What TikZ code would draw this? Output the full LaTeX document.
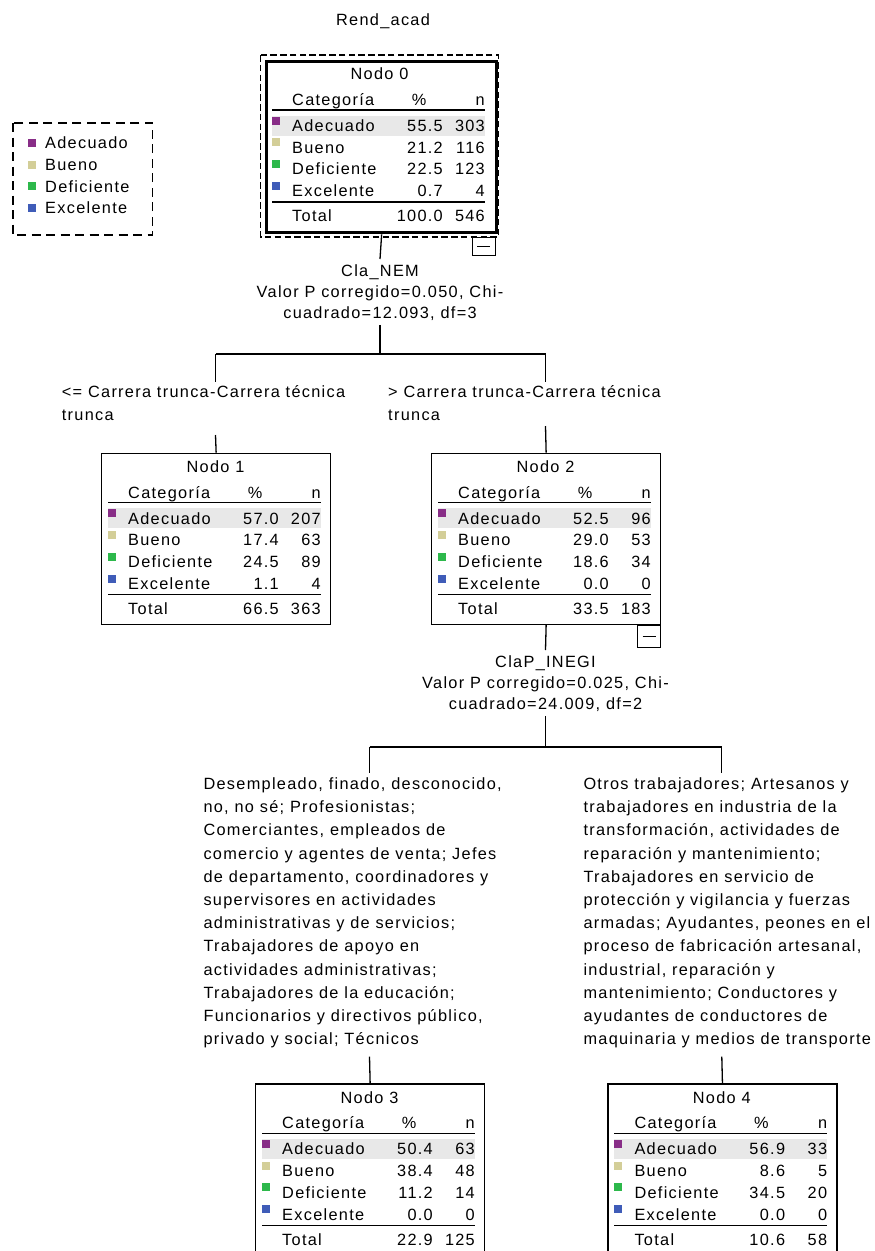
\documentclass[tikz,border=0pt]{standalone}
\usepackage{fontspec}
\setmainfont{Liberation Sans}[LetterSpace=8,Ligatures=NoCommon]
\usetikzlibrary{calc}
\definecolor{cAde}{HTML}{882D87}
\definecolor{cBue}{HTML}{D3CE98}
\definecolor{cDef}{HTML}{2DB84B}
\definecolor{cExc}{HTML}{3F5CB8}
\definecolor{hlgray}{HTML}{E8E8E8}
\newcommand\fsrow{\fontsize{16.3}{21.7}\selectfont}
\newcommand\fslab{\fontsize{16.3}{20.7}\selectfont}
\newcommand\fscond{\fontsize{16.3}{23.2}\selectfont}
\newcommand\firstline{\rule{0pt}{13pt}}
\tikzset{
  every node/.style={inner sep=0pt, font=\fsrow},
  tbox/.style={draw, line width=1.3pt, minimum width=229pt, minimum height=171pt, anchor=north west},
  rootbox/.style={tbox, line width=3.3pt, minimum width=230pt},
  hl/.style={fill=hlgray},
  tabrule/.style={line width=1.2pt},
  conn/.style={line width=1.3pt},
  dashbox/.style={line width=1.2pt, dash pattern=on 6.5pt off 3.3pt},
  legbox/.style={line width=1.2pt, dash pattern=on 9pt off 5.5pt},
  minusbox/.style={draw, line width=1.2pt, minimum width=23pt, minimum height=22pt, anchor=north east},
  splitlab/.style={align=center, font=\fslab, inner ysep=4.5pt, anchor=north},
  condlab/.style={align=left, font=\fscond, anchor=north west},
}
% #1 name, #2 left, #3 top, #4 node number, #5 rows, #6 total pct, #7 total n, #8 box style
\newcommand\treetab[8]{%
  \begin{scope}[shift={(#2,#3)}]
    \node[#8] (#1) at (0,0) {};
    \fill[hl] (7,55.5) rectangle (220,75.5);
    \node[anchor=base] (#1-title) at (114.5,19.85) {Nodo #4};
    \node[anchor=base west] (#1-hcat) at (27,45.35) {Categoría};
    \node[anchor=base] (#1-hpct) at (154,45.35) {\%};
    \node[anchor=base east] (#1-hn) at (220,45.35) {n};
    \draw[tabrule] (7,50) -- (220,50);
    \foreach \c/\k/\p/\n [count=\i from 0] in {#5} {
      \fill[fill=\k] (7,{56.5+21.8*\i}) rectangle (15,{64.5+21.8*\i});
      \node[anchor=base west] (#1-c\i) at (27,{71.35+21.8*\i}) {\c};
      \node[anchor=base east] (#1-p\i) at (178,{71.35+21.8*\i}) {\p};
      \node[anchor=base east] (#1-n\i) at (220,{71.35+21.8*\i}) {\n};
    }
    \draw[tabrule] (7,142) -- (220,142);
    \node[anchor=base west] (#1-tot) at (27,161.85) {Total};
    \node[anchor=base east] (#1-totp) at (178,161.85) {#6};
    \node[anchor=base east] (#1-totn) at (220,161.85) {#7};
  \end{scope}}
\begin{document}
\begin{tikzpicture}[x=1pt,y=-1pt]
\fill[white] (0,0) rectangle (875,1251);
\useasboundingbox (0,0) rectangle (875,1251);

% title
\node[anchor=base] (title) at (383,25.85) {Rend\_acad};

% legend
\draw[legbox] (13,123) rectangle (152.7,235);
\foreach \c/\k [count=\i from 0] in {Adecuado/cAde, Bueno/cBue, Deficiente/cDef, Excelente/cExc} {
  \fill[fill=\k] (28,{139+21.7*\i}) rectangle (36,{147+21.7*\i});
  \node[anchor=base west] (leg\i) at (45,{148.85+21.7*\i}) {\c};
}

% node 0
\draw[dashbox] (260.7,55) rectangle (498.3,237);
\treetab{n0}{265}{60}{0}{Adecuado/cAde/55.5/303, Bueno/cBue/21.2/116, Deficiente/cDef/22.5/123, Excelente/cExc/0.7/4}{100.0}{546}{rootbox}
\node[minusbox, minimum height=18pt] (m0) at (496,237) {};
\draw[tabrule] ($(m0.center)+(-6.5,0)$) -- ($(m0.center)+(6.5,0)$);

% split 0
\node[splitlab] (lab0) at (380,259) {\firstline Cla\_NEM\\Valor P corregido=0.050, Chi-\\cuadrado=12.093, df=3};
\coordinate (j0) at (380,354);
\coordinate (j0L) at (215.5,354);
\coordinate (j0R) at (545.5,354);
\draw[conn] (n0.south) -- (lab0.north);
\draw[conn] (lab0.south) -- (j0);
\draw[conn] (j0L) -- (j0R);

\node[condlab] (cond1) at (61.7,384.5) {\firstline <= Carrera trunca-Carrera técnica\\trunca};
\node[condlab] (cond2) at (388,384.5) {\firstline > Carrera trunca-Carrera técnica\\trunca};
\coordinate (c1top) at (215.5,381.7);
\coordinate (c1bot) at (215.5,435);
\coordinate (c2top) at (545.5,381.7);
\coordinate (c2bot) at (545.5,426);

\treetab{n1}{101}{452.7}{1}{Adecuado/cAde/57.0/207, Bueno/cBue/17.4/63, Deficiente/cDef/24.5/89, Excelente/cExc/1.1/4}{66.5}{363}{tbox}
\treetab{n2}{431}{452.7}{2}{Adecuado/cAde/52.5/96, Bueno/cBue/29.0/53, Deficiente/cDef/18.6/34, Excelente/cExc/0.0/0}{33.5}{183}{tbox}
\node[minusbox] (m2) at (n2.south east) {};
\draw[tabrule] ($(m2.center)+(-6.5,0)$) -- ($(m2.center)+(6.5,0)$);

\draw[conn] (j0L) -- (c1top);
\draw[conn] (c1bot) -- (n1.north);
\draw[conn] (j0R) -- (c2top);
\draw[conn] (c2bot) -- (n2.north);

% split 1
\node[splitlab] (lab1) at (545.5,650) {\firstline ClaP\_INEGI\\Valor P corregido=0.025, Chi-\\cuadrado=24.009, df=2};
\coordinate (j1) at (545.5,747);
\coordinate (j1L) at (369.5,747);
\coordinate (j1R) at (721.8,747);
\draw[conn] (n2.south) -- (lab1.north);
\draw[conn] (lab1.south) -- (j1);
\draw[conn] (j1L) -- (j1R);

\node[condlab] (cond3) at (203.3,776.2) {\firstline Desempleado, finado, desconocido,\\no, no sé; Profesionistas;\\Comerciantes, empleados de\\comercio y agentes de venta; Jefes\\de departamento, coordinadores y\\supervisores en actividades\\administrativas y de servicios;\\Trabajadores de apoyo en\\actividades administrativas;\\Trabajadores de la educación;\\Funcionarios y directivos público,\\privado y social; Técnicos};
\node[condlab] (cond4) at (583.3,776.2) {\firstline Otros trabajadores; Artesanos y\\trabajadores en industria de la\\transformación, actividades de\\reparación y mantenimiento;\\Trabajadores en servicio de\\protección y vigilancia y fuerzas\\armadas; Ayudantes, peones en el\\proceso de fabricación artesanal,\\industrial, reparación y\\mantenimiento; Conductores y\\ayudantes de conductores de\\maquinaria y medios de transporte};
\coordinate (c3top) at (369.5,773.3);
\coordinate (c3bot) at (369.5,1056.7);
\coordinate (c4top) at (721.8,773.3);
\coordinate (c4bot) at (721.8,1056.7);

\treetab{n3}{255}{1083.3}{3}{Adecuado/cAde/50.4/63, Bueno/cBue/38.4/48, Deficiente/cDef/11.2/14, Excelente/cExc/0.0/0}{22.9}{125}{tbox}
\treetab{n4}{607.3}{1083.3}{4}{Adecuado/cAde/56.9/33, Bueno/cBue/8.6/5, Deficiente/cDef/34.5/20, Excelente/cExc/0.0/0}{10.6}{58}{tbox}

\draw[conn] (j1L) -- (c3top);
\draw[conn] (c3bot) -- (n3.north);
\draw[conn] (j1R) -- (c4top);
\draw[conn] (c4bot) -- (n4.north);
\end{tikzpicture}
\end{document}
